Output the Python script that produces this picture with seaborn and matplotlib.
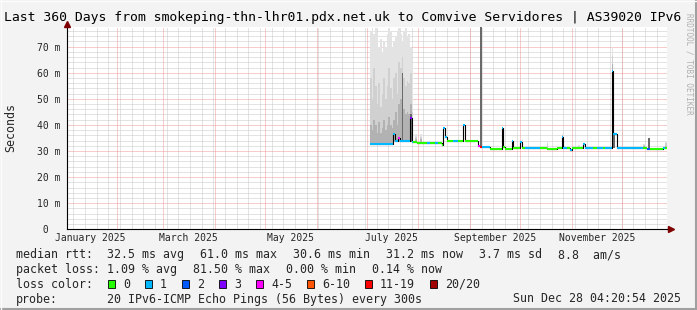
import matplotlib
matplotlib.use("Agg")
import matplotlib.pyplot as plt
import matplotlib.dates as mdates
from matplotlib.patches import Rectangle
from matplotlib.lines import Line2D
import seaborn as sns
import pandas as pd

# ------------------------------------------------------------------ data
title = "Last 360 Days from smokeping-thn-lhr01.pdx.net.uk to Comvive Servidores | AS39020 IPv6"
x_start = "2025-01-02 04:20:54"
x_end = "2025-12-28 04:20:54"
y_max = 77.65

y_ticks = [0, 10, 20, 30, 40, 50, 60, 70]
y_tick_labels = [" 0", "10 m", "20 m", "30 m", "40 m", "50 m", "60 m", "70 m"]
x_label_dates = ["2025-01-16", "2025-03-16", "2025-05-16", "2025-07-16", "2025-09-16", "2025-11-16"]
x_labels = ["January 2025", "March 2025", "May 2025", "July 2025", "September 2025", "November 2025"]

# median rtt (ms) as steps: start date, value, loss bucket index
seg_start = ["2025-07-03", "2025-07-17", "2025-07-18", "2025-07-20", "2025-07-21", "2025-07-27",
             "2025-07-28", "2025-07-29", "2025-07-30", "2025-07-31", "2025-08-06", "2025-08-08",
             "2025-08-11", "2025-08-13", "2025-08-15", "2025-08-16", "2025-08-17", "2025-08-18",
             "2025-08-22", "2025-08-25", "2025-08-28", "2025-08-29", "2025-09-06", "2025-09-07",
             "2025-09-08", "2025-09-13", "2025-09-20", "2025-09-21", "2025-09-22", "2025-09-26",
             "2025-09-27", "2025-10-01", "2025-10-02", "2025-10-04", "2025-10-13", "2025-10-17",
             "2025-10-23", "2025-10-26", "2025-10-27", "2025-10-29", "2025-10-31", "2025-11-01",
             "2025-11-08", "2025-11-09", "2025-11-14", "2025-11-16", "2025-11-20", "2025-11-21",
             "2025-11-25", "2025-11-26", "2025-11-28", "2025-12-14", "2025-12-16", "2025-12-18",
             "2025-12-26", "2025-12-27"]
seg_median = [32.8, 36.4, 33.8, 35.1, 33.9, 42.6,
              33.6, 33.6, 33.4, 33.1, 33.1, 33.1,
              33.1, 33.1, 32.2, 39.0, 35.4, 33.8,
              33.8, 33.8, 40.0, 33.8, 31.9, 31.5,
              31.5, 30.6, 38.8, 31.5, 30.6, 33.8,
              31.3, 33.5, 31.3, 31.3, 31.3, 30.6,
              31.3, 35.2, 31.0, 31.0, 30.3, 31.3,
              32.8, 31.3, 31.3, 31.3, 31.3, 31.3,
              60.8, 36.5, 31.3, 31.3, 30.6, 30.6,
              31.3, 31.0]
seg_loss = [1, 1, 1, 4, 1, 3,
            1, 0, 0, 0, 1, 0,
            1, 0, 0, 1, 1, 0,
            1, 0, 1, 0, 4, 6,
            1, 0, 1, 0, 0, 1,
            0, 1, 0, 1, 0, 0,
            0, 1, 1, 0, 1, 0,
            1, 1, 0, 1, 0, 1,
            1, 1, 1, 0, 2, 0,
            1, 0]

# smoke (ping spread, ms), one day per entry
smoke_day = ["2025-07-03", "2025-07-04", "2025-07-05", "2025-07-06", "2025-07-07", "2025-07-08",
             "2025-07-09", "2025-07-10", "2025-07-11", "2025-07-12", "2025-07-13", "2025-07-14",
             "2025-07-15", "2025-07-16", "2025-07-17", "2025-07-18", "2025-07-19", "2025-07-20",
             "2025-07-21", "2025-07-22", "2025-07-23", "2025-07-24", "2025-07-25", "2025-07-26",
             "2025-07-27", "2025-07-28", "2025-07-30", "2025-08-02", "2025-09-07", "2025-09-20",
             "2025-10-02", "2025-10-17", "2025-10-26", "2025-11-05", "2025-11-25", "2025-11-26",
             "2025-12-14", "2025-12-17", "2025-12-27"]
smoke_lo = [32.6, 32.6, 32.6, 32.6, 32.6, 32.6, 32.6, 32.6, 32.6, 32.6, 32.6, 32.6, 32.6,
            32.6, 33.5, 33.5, 33.5, 33.5, 33.5, 33.5, 33.5, 33.5, 33.5, 33.5, 33.5, 33.3,
            33.4, 33.1, 31.5, 31.5, 31.3, 30.6, 31.0, 31.3, 31.0, 31.0, 31.3, 30.6, 31.0]
smoke_core = [32.6, 32.6, 32.6, 32.6, 32.6, 32.6, 32.6, 32.6, 32.6, 32.6, 32.6, 32.6, 32.6,
              32.6, 33.5, 33.5, 33.5, 33.5, 33.5, 60.0, 33.5, 33.5, 33.5, 33.5, 44.0, 33.3,
              33.4, 33.1, 77.6, 38.8, 31.3, 30.6, 35.2, 31.3, 61.0, 36.5, 31.3, 35.1, 31.0]
smoke_in = [40, 38, 42, 40, 37, 41, 37, 39, 42, 38, 40, 43, 40,
            39, 42, 45, 40, 48, 50, 55, 46, 44, 45, 44, 48, 38,
            34.5, 34.5, 77.6, 38.8, 32.5, 31.5, 35.2, 31.6, 63.5, 36.5, 32.0, 35.1, 32.0]
smoke_mid = [58, 50, 62, 55, 48, 56, 47, 52, 58, 50, 55, 62, 54,
             50, 58, 60, 52, 64, 62, 66, 58, 55, 57, 56, 60, 45,
             35.5, 35.5, 77.6, 39.0, 33.5, 32.8, 36.0, 31.9, 66.5, 36.8, 32.4, 35.1, 33.0]
smoke_hi = [76, 77, 75, 77, 74, 70, 73, 68, 72, 70, 75, 77, 76,
            70, 72, 74, 76, 77, 75, 72, 76, 77, 74, 75, 70, 62,
            36.5, 36.5, 77.6, 39.3, 34.5, 33.8, 36.7, 32.2, 69.7, 37.2, 32.8, 35.1, 33.8]

loss_labels = ["0", "1", "2", "3", "4-5", "6-10", "11-19", "20/20"]
loss_colors = ["#26ff00", "#00b8ff", "#0059ff", "#7e00ff", "#ff00ff", "#ff5500", "#ff0000", "#a10000"]

stats_rtt = ["median rtt:  32.5 ms avg", "61.0 ms max", "30.6 ms min", "31.2 ms now", "3.7 ms sd", "8.8  am/s"]
stats_loss = ["packet loss: 1.09 % avg", "81.50 % max", "0.00 % min", "0.14 % now"]
probe_label = "probe:"
probe_text = "20 IPv6-ICMP Echo Pings (56 Bytes) every 300s"
date_text = "Sun Dec 28 04:20:54 2025"
y_axis_label = "Seconds"
watermark = "RRDTOOL / TOBI OETIKER"

# ------------------------------------------------------------------ figure
W, H = 697, 310
MONO = "DejaVu Sans Mono"
sns.set_style("white")
plt.rcParams["font.family"] = [MONO, "DejaVu Sans"]

fig = plt.figure(figsize=(W / 100, H / 100), dpi=100)
fig.patch.set_facecolor("#f3f3f3")


def fx(x):
    return x / W


def fy(y):
    return 1 - y / H


ax_left, ax_right, ax_top, ax_bot = 67, 667, 26.7, 229.3
ax = fig.add_axes([fx(ax_left), fy(ax_bot), (ax_right - ax_left) / W, (ax_bot - ax_top) / H])
ax.set_facecolor("white")

t0, t1 = pd.Timestamp(x_start), pd.Timestamp(x_end)

# grid
GRID_MINOR = "#c9c9c9"
GRID_MAJOR = "#f09a9a"
for d in pd.date_range("2025-01-06", t1, freq="7D"):
    ax.axvline(d, color=GRID_MINOR, lw=0.72, ls=(0, (1, 1)), zorder=0.5)
for v in range(2, 78, 2):
    if v % 10:
        ax.axhline(v, color=GRID_MINOR, lw=0.72, ls=(0, (1, 1)), zorder=0.5)
month_starts = pd.date_range("2025-02-01", t1, freq="MS")
for d in month_starts:
    ax.axvline(d, color=GRID_MAJOR, lw=0.72, ls=(0, (1, 1)), zorder=0.6)
for v in range(10, 80, 10):
    ax.axhline(v, color=GRID_MAJOR, lw=0.72, ls=(0, (1, 1)), zorder=0.6)

# smoke
sd = pd.to_datetime(smoke_day)
for top, col in ((smoke_hi, "#e3e3e3"), (smoke_mid, "#d0d0d0"), (smoke_in, "#b2b2b2"),
                 (smoke_core, "#6a6a6a")):
    ax.bar(sd, [t - l for t, l in zip(top, smoke_lo)], bottom=smoke_lo, width=1.0,
           align="edge", color=col, linewidth=0, antialiased=False, zorder=2)

# median (black steps) + loss-coloured segments
seg_t = list(pd.to_datetime(seg_start))
seg_end = seg_t[1:] + [t1]
step_df = pd.DataFrame({"t": seg_t + [t1], "v": seg_median + [seg_median[-1]]})
sns.lineplot(data=step_df, x="t", y="v", drawstyle="steps-post", color="#000000",
             lw=0.8, ax=ax, estimator=None, sort=False, zorder=3)
ax.hlines(seg_median, mdates.date2num(seg_t), mdates.date2num(seg_end),
          colors=[loss_colors[i] for i in seg_loss], lw=1.5, zorder=4)

ax.set_xlim(t0, t1)
ax.set_ylim(0, y_max)
ax.set_xlabel("")
ax.set_ylabel("")

# axes / ticks
for s in ("top", "right"):
    ax.spines[s].set_visible(False)
for s in ("left", "bottom"):
    ax.spines[s].set_color("black")
    ax.spines[s].set_linewidth(0.8)
    ax.spines[s].set_zorder(5)

ax.set_yticks(y_ticks)
ax.set_yticklabels(y_tick_labels, fontsize=7.06, family=MONO, ha="left")
tick_len_pt = 3 * 0.72
ax.tick_params(axis="y", which="major", length=tick_len_pt, width=0.72, color="black",
               direction="out", pad=(ax_left - 36.7) * 0.72 - tick_len_pt)

ax.set_xticks(pd.to_datetime(x_label_dates))
ax.set_xticklabels(x_labels, fontsize=7.06, family=MONO)
ax.tick_params(axis="x", which="major", length=0, pad=2.6)
ax.set_xticks(month_starts, minor=True)
ax.tick_params(axis="x", which="minor", length=1.6, width=0.72, color="black", direction="out")

# axis arrows
ax.plot([1.0, 1.006], [0, 0], color="black", lw=0.8, transform=ax.transAxes, clip_on=False, zorder=5)
ax.plot([1.006], [0], marker=">", ms=4, color="#7f0000", mec="#7f0000",
        transform=ax.transAxes, clip_on=False, zorder=6)
ax.plot([0, 0], [1.0, 1.012], color="black", lw=0.8, transform=ax.transAxes, clip_on=False, zorder=5)
ax.plot([0], [1.014], marker="^", ms=4, color="#7f0000", mec="#7f0000",
        transform=ax.transAxes, clip_on=False, zorder=6)

# texts
fig.text(fx(4), fy(17), title, ha="left", va="center", fontsize=9.45, family=MONO, color="black")
fig.text(fx(11), fy(127.5), y_axis_label, rotation=90, ha="center", va="center",
         fontsize=8.37, family=MONO)
fig.text(fx(689.5), fy(64), watermark, rotation=270, ha="center", va="center",
         fontsize=5.5, family=MONO, color="#b0b0b0")

CW = 7.0  # px per character in legend font
GAP = 16
ROWS = [258, 273, 287.5, 302.5]

x = 16
for s in stats_rtt:
    fig.text(fx(x), fy(ROWS[0]), s, ha="left", va="baseline", fontsize=8.37, family=MONO)
    x += len(s) * CW + GAP
x = 16
for s in stats_loss:
    fig.text(fx(x), fy(ROWS[1]), s, ha="left", va="baseline", fontsize=8.37, family=MONO)
    x += len(s) * CW + GAP

fig.text(fx(16), fy(ROWS[2]), "loss color:", ha="left", va="baseline", fontsize=8.37, family=MONO)
x = 108
for lab, col in zip(loss_labels, loss_colors):
    fig.add_artist(Rectangle((fx(x), fy(ROWS[2] + 0.5)), 7 / W, 8 / H, transform=fig.transFigure,
                             facecolor=col, edgecolor="black", lw=0.6))
    fig.text(fx(x + 15), fy(ROWS[2]), lab, ha="left", va="baseline", fontsize=8.37, family=MONO)
    x += 30 + len(lab) * CW

fig.text(fx(16), fy(ROWS[3]), probe_label, ha="left", va="baseline", fontsize=8.37, family=MONO)
fig.text(fx(107), fy(ROWS[3]), probe_text, ha="left", va="baseline", fontsize=8.37, family=MONO)
fig.text(fx(681), fy(ROWS[3]), date_text, ha="right", va="baseline", fontsize=8.37, family=MONO)

# 3D-ish frame of the image
fig.add_artist(Line2D([0, 1], [fy(309), fy(309)], transform=fig.transFigure, color="#a0a0a0", lw=1.5))
fig.add_artist(Line2D([fx(696), fx(696)], [0, 1], transform=fig.transFigure, color="#a0a0a0", lw=1.5))
fig.add_artist(Line2D([0, 1], [fy(0.5), fy(0.5)], transform=fig.transFigure, color="#fcfcfc", lw=1.0))
fig.add_artist(Line2D([fx(0.5), fx(0.5)], [0, 1], transform=fig.transFigure, color="#fcfcfc", lw=1.0))

fig.savefig("out.png", dpi=100, facecolor=fig.get_facecolor())
